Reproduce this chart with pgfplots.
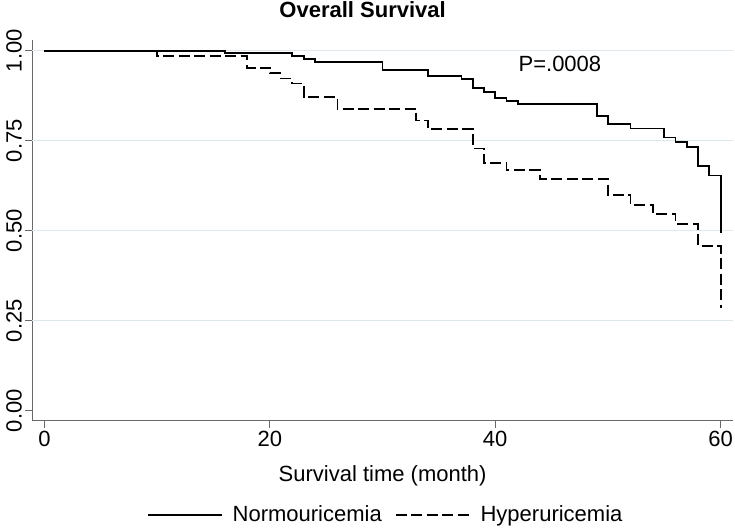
\documentclass[border=0pt]{standalone}
\usepackage{pgfplots}
\pgfplotsset{compat=1.18}
\usepackage{fontspec}
\setmainfont{Liberation Sans}
\definecolor{gridc}{RGB}{222,232,236}
\definecolor{axc}{RGB}{105,105,105}
\newcommand{\fs}{\fontsize{22}{26}\selectfont}
\begin{document}
\begin{tikzpicture}
\begin{axis}[name=ax, scale only axis, width=700.7pt, height=380.8pt,
  xmin=-1.08, xmax=61.1, ymin=-0.028, ymax=1.03,
  axis x line*=bottom, axis y line*=left,
  axis line style={axc, line width=1pt, -},
  tick style={axc, line width=1pt}, tick align=outside, major tick length=7pt,
  xtick={0,20,40,60},
  ytick={0}, extra y ticks={0.25,0.5,0.75,1},
  extra y tick style={grid=major},
  grid style={gridc, line width=1.2pt},
  /pgf/number format/assume math mode=true,
  yticklabel={\pgfmathprintnumber[fixed,fixed zerofill,precision=2]{\tick}},
  yticklabel style={rotate=90, anchor=south},
  tick label style={font=\fs},
  xlabel={Survival time (month)},
  xlabel style={font=\fs, at={(axis description cs:0.5,0)}, anchor=center, yshift=-55pt},
  title={Overall Survival},
  title style={font=\fs\bfseries, at={(axis description cs:0.5,1)}, anchor=base, yshift=16pt, xshift=-20pt},
  legend style={at={(axis description cs:0.5,0)}, anchor=center, yshift=-94pt, xshift=3pt, draw=none, fill=none, font=\fs, legend columns=2, /tikz/every even column/.append style={column sep=11pt}},
  legend image code/.code={\draw[#1] (0pt,0pt) -- (74pt,0pt);},
]
\addplot[black, line width=1.8pt, const plot] coordinates {
(0,1.000) (16,0.993) (22,0.985) (23,0.977) (24,0.969) (30,0.946) (34,0.930)
(37,0.921) (38,0.897) (39,0.886) (40,0.869) (41,0.861) (42,0.852) (49,0.819)
(50,0.796) (52,0.784) (55,0.759) (56,0.746) (57,0.733) (58,0.680) (59,0.653)
(60,0.653) (60,0.493)};
\addlegendentry{\hspace{8pt}Normouricemia}
\addplot[black, line width=1.8pt, const plot, dash pattern=on 11pt off 4.5pt] coordinates {
(0,1.000) (10,0.985) (18,0.953) (20,0.937) (21,0.923) (22,0.909) (23,0.872)
(26,0.838) (33,0.806) (34,0.783) (38,0.728) (39,0.688) (41,0.668) (44,0.643)
(50,0.598) (52,0.571) (54,0.546) (56,0.519) (58,0.457) (60,0.457) (60,0.284)};
\addlegendentry{\hspace{8pt}Hyperuricemia}
\node[font=\fs, anchor=center] at (axis cs:45.74,0.963) {P=.0008};
\end{axis}
\pgfresetboundingbox
\path ([shift={(-32.3pt,-108.3pt)}]ax.south west) rectangle ([shift={(2pt,39.9pt)}]ax.north east);
\end{tikzpicture}
\end{document}
